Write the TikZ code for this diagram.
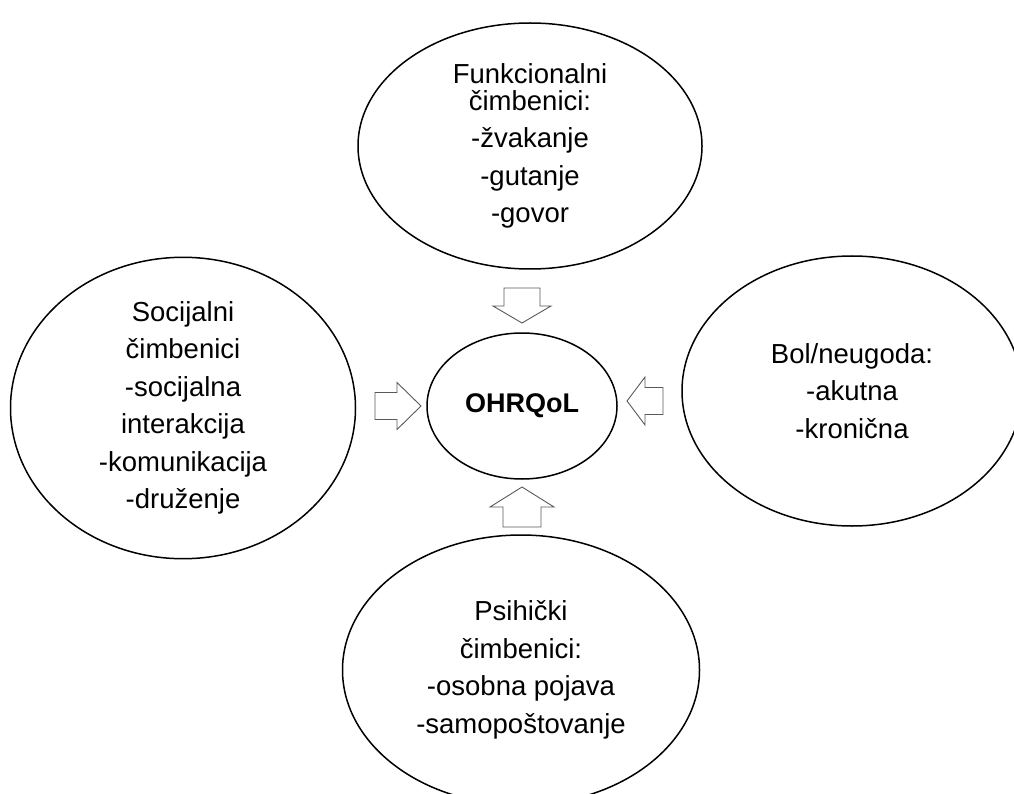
\documentclass[tikz,border=0pt]{standalone}
\usepackage{fontspec}
\setmainfont{Liberation Sans}
\usetikzlibrary{shapes.geometric}

\begin{document}
\begin{tikzpicture}[x=1pt,y=-1pt,
  factor/.style={draw,ellipse,line width=1.5pt,inner sep=0pt,align=center,
    font=\fontsize{27.5}{37.5}\selectfont},
  blockarrow/.style={draw=black!65,line width=0.9pt,fill=white}]
\useasboundingbox (0,0) rectangle (1014,794);
\draw 
(530,146) node[factor,minimum width=344,minimum height=246](funk){Funkcionalni\\[-11pt]čimbenici:\\-žvakanje\\-gutanje\\-govor}
(183,408) node[factor,minimum width=345,minimum height=272](soc){Socijalni\\čimbenici\\-socijalna\\interakcija\\-komunikacija\\-druženje}
(852,391) node[factor,minimum width=340,minimum height=270](bol){Bol/neugoda:\\-akutna\\-kronična}
(521,670) node[factor,minimum width=357,minimum height=270](psih){Psihički\\čimbenici:\\-osobna pojava\\-samopoštovanje}
(522,406) node[factor,minimum width=190,minimum height=146,font=\fontsize{27}{30}\selectfont\bfseries](ohr){OHRQoL}
;
% tip x/tip y/angle/length/head length/half body/half head
\foreach \x/\y/\r/\len/\hl/\bw/\hw in {522/323/-90/35/17/18/29, 421/406/0/46/24/13.5/23.5,
627/401/180/36/18/13.5/24, 522/487/90/40/20/19/32}{
\draw[blockarrow,shift={(\x,\y)},rotate=\r] (0,0) -- (-\hl,-\hw) -- (-\hl,-\bw) -- (-\len,-\bw)
  -- (-\len,\bw) -- (-\hl,\bw) -- (-\hl,\hw) -- cycle;
}
\end{tikzpicture}
\end{document}
